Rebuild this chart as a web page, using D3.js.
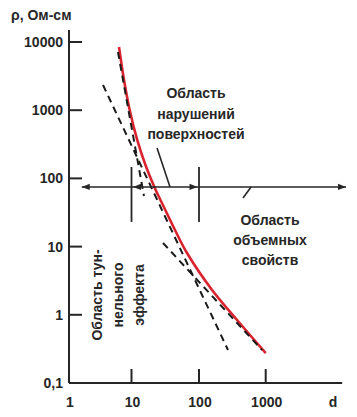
<!DOCTYPE html>
<html><head><meta charset="utf-8">
<script src="https://cdn.jsdelivr.net/npm/d3@7"></script>
<style>
html,body{margin:0;padding:0;background:#fff;}
svg{display:block;}
text{font-family:"Liberation Sans",Arial,sans-serif;font-weight:bold;fill:#262626;}
</style></head>
<body>
<svg id="chart" width="357" height="417"></svg>
<script>
// ---- data ----
const xTicks = [1, 10, 100, 1000];
const xTickLabels = ["1", "10", "100", "1000"];
const yTicks = [0.1, 1, 10, 100, 1000, 10000];
const yTickLabels = ["0,1", "1", "10", "100", "1000", "10000"];
const yTitle = "ρ, Ом-см";
const xTitle = "d";

// red resistivity curve
const redD   = [6.31, 7.59, 9.35, 12.15, 16.1, 21.8, 31.7, 44.1, 66.4, 157, 372, 1000];
const redRho = [8450, 2770, 1007, 366, 157, 74.8, 34.4, 17.5, 8.05, 2.31, 0.839, 0.275];

// dashed asymptotes (start / end points)
const steepD = [6.08, 15.3],  steepRho = [7130, 55.2];   // tunnel-effect asymptote
const midD   = [3.5, 272],    midRho   = [2340, 0.305];  // long dashed line
const bulkD  = [29.3, 881],   bulkRho  = [11.3, 0.305];  // bulk asymptote

// region annotation
const arrowD = [1.6, 16000];
const arrowRho = 75;
const boundD = [10, 100];
const boundRho = [147, 23];
const leader1D = [23.9, 37.2], leader1Rho = [279, 75];
const leader2D = [457, 603], leader2Rho = [51.6, 75];

const label1 = ["Область", "нарушений", "поверхностей"];
const label2 = ["Область", "объемных", "свойств"];
const label3 = ["Область тун-", "нельного", "эффекта"];

// ---- scales ----
const svg = d3.select("#chart");
const x = d3.scaleLog().domain([1, 10, 100, 1000]).range([69, 131.5, 199, 265.7]);
const y = d3.scaleLog().domain([0.1, 10000]).range([383, 42]);
const ink = "#262626";

// axes lines
svg.append("line").attr("x1", x(1)).attr("x2", x(1)).attr("y1", y(0.1)).attr("y2", y(15000))
  .attr("stroke", ink).attr("stroke-width", 2);
svg.append("line").attr("x1", x(1)).attr("x2", x(14000)).attr("y1", y(0.1)).attr("y2", y(0.1))
  .attr("stroke", ink).attr("stroke-width", 2);

// y ticks
yTicks.forEach((v, i) => {
  if (i > 0) svg.append("line").attr("x1", x(1)).attr("x2", x(1) + 13).attr("y1", y(v)).attr("y2", y(v))
    .attr("stroke", ink).attr("stroke-width", 2);
  svg.append("text").attr("x", x(1) - 6).attr("y", y(v)).attr("dy", "0.36em")
    .attr("text-anchor", "end").attr("font-size", 14).text(yTickLabels[i]);
});
// x ticks
xTicks.forEach((v, i) => {
  if (i > 0) svg.append("line").attr("x1", x(v)).attr("x2", x(v)).attr("y1", y(0.1)).attr("y2", y(0.1) - 14)
    .attr("stroke", ink).attr("stroke-width", 2);
  svg.append("text").attr("x", x(v) + 1).attr("y", 407)
    .attr("text-anchor", "middle").attr("font-size", 14).text(xTickLabels[i]);
});
svg.append("text").attr("x", 333).attr("y", 407).attr("text-anchor", "middle").attr("font-size", 14).text(xTitle);
svg.append("text").attr("x", 11).attr("y", 20).attr("font-size", 14).text(yTitle);

// red curve
const line = d3.line().x(d => x(d[0])).y(d => y(d[1])).curve(d3.curveCatmullRom.alpha(0.5));
svg.append("path").datum(redD.map((d, i) => [d, redRho[i]])).attr("d", line)
  .attr("fill", "none").attr("stroke", "#d9232e").attr("stroke-width", 2.6);

// dashed straight lines
const straight = d3.line().x(d => x(d[0])).y(d => y(d[1]));
[[steepD, steepRho], [midD, midRho], [bulkD, bulkRho]].forEach(([ds, rs]) => {
  svg.append("path").datum(ds.map((d, i) => [d, rs[i]])).attr("d", straight)
    .attr("fill", "none").attr("stroke", "#1a1a1a").attr("stroke-width", 2).attr("stroke-dasharray", "7,5");
});

// arrows
function arrowHead(tipX, tipY, dir) {
  const L = 8, W = 3.2;
  svg.append("path").attr("d", `M${tipX},${tipY}L${tipX - dir * L},${tipY - W}L${tipX - dir * L},${tipY + W}Z`)
    .attr("fill", ink);
}
const ay = y(arrowRho);
svg.append("line").attr("x1", x(arrowD[0])).attr("x2", x(arrowD[1])).attr("y1", ay).attr("y2", ay)
  .attr("stroke", ink).attr("stroke-width", 1.5);
arrowHead(x(arrowD[0]), ay, -1);
arrowHead(x(arrowD[1]), ay, 1);
boundD.forEach(v => {
  svg.append("line").attr("x1", x(v)).attr("x2", x(v)).attr("y1", y(boundRho[0])).attr("y2", y(boundRho[1]))
    .attr("stroke", ink).attr("stroke-width", 1.8);
});
arrowHead(x(boundD[0]) + 1.5, ay, -1);
arrowHead(x(boundD[1]) - 1.5, ay, 1);

// leaders
svg.append("line").attr("x1", x(leader1D[0])).attr("y1", y(leader1Rho[0])).attr("x2", x(leader1D[1])).attr("y2", y(leader1Rho[1]))
  .attr("stroke", ink).attr("stroke-width", 1.6);
svg.append("line").attr("x1", x(leader2D[0])).attr("y1", y(leader2Rho[0])).attr("x2", x(leader2D[1])).attr("y2", y(leader2Rho[1]))
  .attr("stroke", ink).attr("stroke-width", 1.6);

// labels
label1.forEach((t, i) => svg.append("text").attr("x", 196).attr("y", 98 + i * 20.5)
  .attr("text-anchor", "middle").attr("font-size", 14).text(t));
label2.forEach((t, i) => svg.append("text").attr("x", 270).attr("y", 225 + i * 20)
  .attr("text-anchor", "middle").attr("font-size", 14).text(t));
label3.forEach((t, i) => svg.append("text")
  .attr("transform", `translate(${102 + i * 21},295) rotate(-90)`)
  .attr("text-anchor", "middle").attr("font-size", 14).text(t));
</script>
</body></html>
